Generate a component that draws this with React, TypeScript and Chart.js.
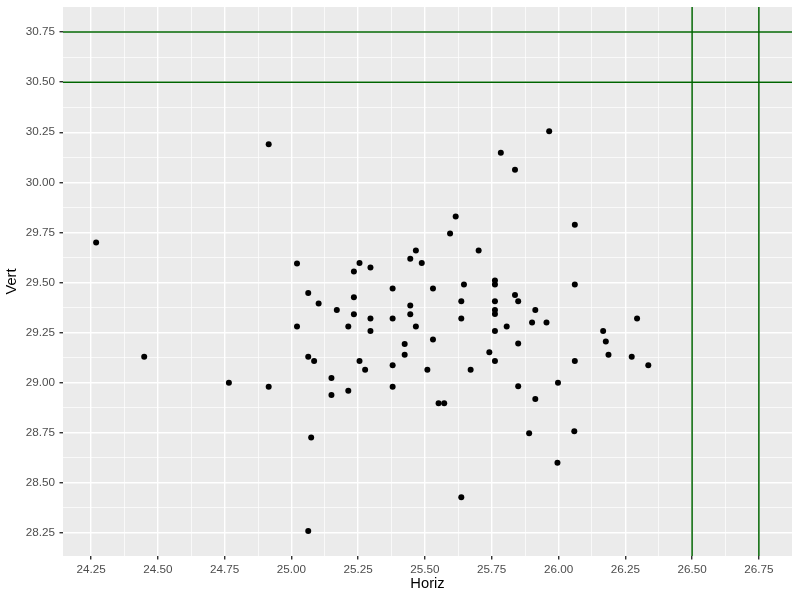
import React, { useEffect, useRef } from "react";
import { Chart, registerables } from "chart.js";

Chart.register(...registerables);

const horiz: number[] = [
  24.269, 24.449, 24.766, 24.915, 24.915, 25.021, 25.021, 25.063, 25.063, 25.085,
  25.074, 25.063, 25.102, 25.615, 25.594, 25.466, 25.445, 25.488, 25.255, 25.234,
  25.296, 25.646, 25.379, 25.53, 25.234, 25.17, 25.636, 25.445, 25.234, 25.445,
  25.296, 25.379, 25.636, 25.213, 25.466, 25.296, 25.53, 25.424, 25.424, 25.255,
  25.276, 25.379, 25.509, 25.671, 25.15, 25.15, 25.213, 25.379, 25.551, 25.572,
  25.965, 25.784, 25.837, 26.061, 25.701, 25.762, 25.762, 26.061, 25.837, 25.762,
  25.849, 25.913, 25.762, 25.762, 25.901, 25.955, 26.294, 25.806, 25.762, 26.167,
  26.177, 25.849, 25.741, 26.187, 25.762, 26.061, 26.274, 26.336, 25.849, 25.998,
  25.913, 25.89, 26.059, 25.996, 25.636,
];

const vert: number[] = [
  29.7, 29.13, 29.0, 30.19, 28.98, 29.595, 29.28, 29.448, 29.13, 29.108,
  28.727, 28.26, 29.395, 29.83, 29.745, 29.66, 29.618, 29.597, 29.597, 29.555,
  29.575, 29.49, 29.47, 29.47, 29.427, 29.363, 29.406, 29.385, 29.342, 29.342,
  29.32, 29.32, 29.32, 29.28, 29.28, 29.258, 29.215, 29.193, 29.14, 29.108,
  29.065, 29.087, 29.065, 29.065, 29.023, 28.938, 28.96, 28.98, 28.897, 28.897,
  30.255, 30.148, 30.063, 29.788, 29.66, 29.51, 29.49, 29.49, 29.438, 29.406,
  29.406, 29.363, 29.363, 29.343, 29.3, 29.3, 29.32, 29.28, 29.258, 29.258,
  29.205, 29.195, 29.152, 29.14, 29.108, 29.108, 29.13, 29.087, 28.982, 29.0,
  28.918, 28.748, 28.758, 28.6, 28.428,
];

const xMajorTicks: number[] = [24.25, 24.5, 24.75, 25.0, 25.25, 25.5, 25.75, 26.0, 26.25, 26.5, 26.75];
const yMajorTicks: number[] = [28.25, 28.5, 28.75, 29.0, 29.25, 29.5, 29.75, 30.0, 30.25, 30.5, 30.75];

const hLines: number[] = [30.5, 30.75];
const vLines: number[] = [26.5, 26.75];

const xRange: [number, number] = [24.145, 26.874];
const yRange: [number, number] = [28.135, 30.875];

const FONT = "'Liberation Sans', Arial, Helvetica, sans-serif";

function withMinors(majors: number[]): number[] {
  const out: number[] = [];
  majors.forEach((v, i) => {
    out.push(v);
    if (i < majors.length - 1) out.push((v + majors[i + 1]) / 2);
  });
  return out;
}

function isMajor(v: number): boolean {
  return Math.abs(v * 4 - Math.round(v * 4)) < 1e-6;
}

const panelPlugin = {
  id: "panelBg",
  beforeDraw(chart: any) {
    const { ctx, chartArea } = chart;
    ctx.save();
    ctx.fillStyle = "#EBEBEB";
    ctx.fillRect(chartArea.left, chartArea.top, chartArea.right - chartArea.left, chartArea.bottom - chartArea.top);
    ctx.restore();
  },
};

const refLinePlugin = {
  id: "refLines",
  afterDatasetsDraw(chart: any) {
    const { ctx, chartArea, scales } = chart;
    ctx.save();
    ctx.strokeStyle = "#006400";
    ctx.lineWidth = 1.5;
    hLines.forEach((v) => {
      const y = scales.y.getPixelForValue(v);
      ctx.beginPath();
      ctx.moveTo(chartArea.left, y);
      ctx.lineTo(chartArea.right, y);
      ctx.stroke();
    });
    vLines.forEach((v) => {
      const x = scales.x.getPixelForValue(v);
      ctx.beginPath();
      ctx.moveTo(x, chartArea.top);
      ctx.lineTo(x, chartArea.bottom);
      ctx.stroke();
    });
    ctx.restore();
  },
};

function gridOpts() {
  return {
    color: "#FFFFFF",
    lineWidth: (c: any) => (c.tick && isMajor(c.tick.value) ? 1.42 : 0.71),
    tickColor: (c: any) => (c.tick && isMajor(c.tick.value) ? "#333333" : "rgba(0,0,0,0)"),
    tickWidth: (c: any) => (c.tick && isMajor(c.tick.value) ? 1.42 : 0.01),
    tickLength: 3.5,
    drawTicks: true,
    drawOnChartArea: true,
  };
}

export default function App() {
  const ref = useRef<HTMLCanvasElement | null>(null);

  useEffect(() => {
    if (!ref.current) return;
    const xTicks = withMinors(xMajorTicks);
    const yTicks = withMinors(yMajorTicks);
    const points = horiz.map((h, i) => ({ x: h, y: vert[i] }));

    const chart = new Chart(ref.current, {
      type: "scatter",
      data: {
        datasets: [
          {
            data: points,
            pointBackgroundColor: "#000000",
            pointBorderWidth: 0,
            pointRadius: 3,
            pointHoverRadius: 3,
          },
        ],
      },
      options: {
        animation: false,
        responsive: false,
        events: [],
        layout: { padding: { top: 7, right: 8, bottom: 0, left: 0 } },
        plugins: { legend: { display: false }, tooltip: { enabled: false } },
        scales: {
          x: {
            type: "linear",
            min: xRange[0],
            max: xRange[1],
            afterBuildTicks: (s: any) => {
              s.ticks = xTicks.map((v) => ({ value: v }));
            },
            afterFit: (s: any) => {
              s.height = 44;
              s.paddingLeft = 0;
              s.paddingRight = 0;
            },
            border: { display: false },
            grid: gridOpts() as any,
            ticks: {
              autoSkip: false,
              maxRotation: 0,
              padding: 3,
              color: "#4D4D4D",
              font: { family: FONT, size: 11.7 },
              callback: (v: any) => (isMajor(Number(v)) ? Number(v).toFixed(2) : ""),
            },
            title: {
              display: true,
              text: "Horiz",
              color: "#000000",
              font: { family: FONT, size: 14.7 },
              padding: { top: 0, bottom: 6.8 },
            },
          },
          y: {
            type: "linear",
            min: yRange[0],
            max: yRange[1],
            afterBuildTicks: (s: any) => {
              s.ticks = yTicks.map((v) => ({ value: v }));
            },
            afterFit: (s: any) => {
              s.width = 63;
              s.paddingTop = 0;
              s.paddingBottom = 0;
            },
            border: { display: false },
            grid: gridOpts() as any,
            ticks: {
              autoSkip: false,
              padding: 4.5,
              color: "#4D4D4D",
              font: { family: FONT, size: 11.7 },
              callback: (v: any) => (isMajor(Number(v)) ? Number(v).toFixed(2) : ""),
            },
            title: {
              display: true,
              text: "Vert",
              color: "#000000",
              font: { family: FONT, size: 14.7 },
              padding: { top: 3.4, bottom: 0 },
            },
          },
        },
      },
      plugins: [panelPlugin, refLinePlugin],
    });
    return () => chart.destroy();
  }, []);

  return (
    <div style={{ position: "fixed", left: 0, top: 0, width: 800, height: 600, background: "#FFFFFF" }}>
      <canvas ref={ref} width={800} height={600} style={{ display: "block", width: 800, height: 600 }} />
    </div>
  );
}
